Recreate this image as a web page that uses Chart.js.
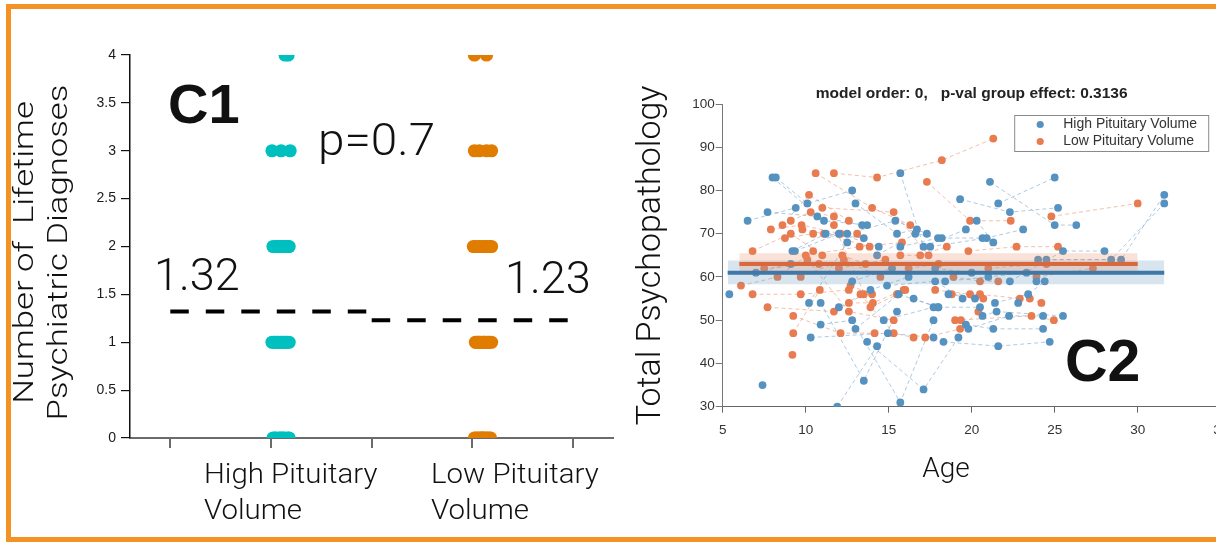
<!DOCTYPE html>
<html>
<head>
<meta charset="utf-8">
<script src="https://cdn.jsdelivr.net/npm/chart.js@4.4.1/dist/chart.umd.min.js"></script>
<style>
  html, body { margin: 0; padding: 0; background: #fff; overflow: hidden; }
  body { width: 1216px; height: 542px; position: relative; }
  #c1 { position: absolute; left: 0; top: 0; }
  #c2 { position: absolute; left: 630px; top: 0; }
  #frame {
    position: absolute; left: 6px; top: 4px; width: 1300px; height: 528px;
    border: 5px solid #f39325; border-right: none; pointer-events: none;
  }
</style>
</head>
<body>
<canvas id="c1" width="620" height="542"></canvas>
<canvas id="c2" width="612" height="542"></canvas>
<div id="frame"></div>
<script>
// ---------- panel C1: lifetime diagnoses by group ----------
const groupLabels = [["High Pituitary", "Volume"], ["Low Pituitary", "Volume"]];
const groupPos = [1, 3];
const groupMeans = [1.32, 1.23];
const pValue = 0.7;
const c1Title = ["Number of  Lifetime", "Psychiatric Diagnoses"];

// one entry per subject: number of diagnoses and its horizontal jitter in the strip
const highDiag = [0,0,0,0,0,0,0,0,0,0, 1,1,1,1,1,1,1,1,1,1,1,1, 2,2,2,2,2,2,2,2,2,2, 3,3,3, 4,4];
const highJitter = [0.02,0.04,0.05,0.08,0.11,0.12,0.14,0.17,0.18,0.09,
                    0.01,0.03,0.04,0.06,0.07,0.09,0.10,0.12,0.13,0.15,0.16,0.18,
                    0.02,0.05,0.06,0.08,0.10,0.11,0.14,0.16,0.17,0.18,
                    0.01,0.10,0.19,
                    0.14,0.17];
const lowDiag = [0,0,0,0,0,0,0,0,0,0,0,0,0, 1,1,1,1,1,1,1,1,1,1,1,1,1,1, 2,2,2,2,2,2,2,2,2, 3,3,3,3, 4,4];
const lowJitter = [0.02,0.03,0.05,0.06,0.08,0.09,0.11,0.12,0.14,0.15,0.17,0.18,0.10,
                   0.03,0.04,0.05,0.07,0.08,0.10,0.11,0.12,0.13,0.15,0.16,0.17,0.19,0.06,
                   0.01,0.03,0.06,0.08,0.11,0.13,0.15,0.17,0.19,
                   0.02,0.07,0.14,0.19,
                   0.02,0.14];
const stripColors = ["#00bfbf", "#e07c00"];

// ---------- panel C2: total psychopathology by age ----------
const modelOrder = 0;
const groupPval = 0.3136;
const seriesNames = ["High Pituitary Volume", "Low Pituitary Volume"];
const dotColors = ["#5592c0", "#e87b50"];
const trackColors = ["rgba(95,150,195,0.5)", "rgba(232,128,90,0.5)"];

// [subject, age, score]
const highVisits = [
  [1, 6.5, 73], [1, 9.4, 76],
  [2, 7.4, 35],
  [3, 7.7, 75], [3, 10.7, 74], [3, 13.4, 72],
  [4, 8.0, 83], [4, 11.1, 73], [4, 13.7, 72],
  [5, 8.2, 83], [5, 10.1, 77], [5, 12.8, 80],
  [6, 9.2, 66], [6, 11.2, 70], [6, 13.5, 69],
  [7, 9.35, 66], [7, 12.0, 70], [7, 14.4, 67],
  [8, 10.2, 54], [8, 12.5, 68],
  [9, 10.3, 46], [9, 14.95, 47], [9, 17.7, 46],
  [10, 10.9, 54], [10, 13.5, 36], [10, 15.5, 52],
  [11, 10.9, 49], [11, 12.8, 50], [11, 15.7, 31], [11, 17.7, 50],
  [12, 11.9, 30], [12, 14.3, 44],
  [13, 12.0, 53], [13, 13.9, 57], [13, 16.2, 60],
  [14, 12.5, 70], [14, 15.4, 73], [14, 17.3, 70],
  [15, 13.0, 77], [15, 15.5, 70], [15, 16.7, 71],
  [16, 13.0, 48], [16, 15.6, 56], [16, 17.95, 53],
  [17, 13.7, 45], [17, 17.1, 34], [17, 19.2, 46],
  [18, 14.3, 65], [18, 16.6, 70], [18, 18.2, 69],
  [19, 14.7, 50], [19, 17.7, 53], [19, 20.5, 53],
  [20, 14.9, 58], [20, 17.8, 59], [20, 19.45, 55],
  [21, 15.7, 84], [21, 17.1, 67], [21, 19.65, 71],
  [22, 15.7, 67], [22, 17.97, 69], [22, 20.65, 69],
  [23, 17.5, 67], [23, 20.9, 69], [23, 23.1, 71],
  [24, 18.3, 45], [24, 21.6, 44], [24, 24.7, 45],
  [25, 18.4, 59], [25, 21.0, 60], [25, 23.3, 61],
  [26, 19.3, 78], [26, 22.3, 75], [26, 25.2, 76],
  [27, 19.65, 49], [27, 21.3, 48], [27, 24.3, 48],
  [28, 19.8, 48], [28, 22.25, 51], [28, 24.3, 51],
  [29, 20.3, 73], [29, 21.3, 68],
  [30, 20.65, 51], [30, 21.5, 52], [30, 25.5, 51],
  [31, 21.1, 82], [31, 25.0, 72], [31, 26.3, 72],
  [32, 21.4, 54], [32, 23.4, 56], [32, 24.4, 59],
  [33, 21.6, 77], [33, 25.0, 83],
  [34, 22.3, 59], [34, 25.5, 66], [34, 28.0, 66],
  [36, 24.0, 64], [36, 28.4, 64], [36, 31.6, 77],
  [37, 24.5, 64], [37, 29.0, 64], [37, 31.6, 79],
  [38, 5.4, 56],
  [39, 22.8, 54],
  [40, 7.0, 61], [40, 9.1, 63],
  [41, 12.8, 59], [41, 15.2, 62],
  [42, 17.8, 62], [42, 20.0, 61],
  [43, 23.9, 59],
  [44, 18.6, 56], [44, 20.2, 55],
  [45, 16.5, 55], [45, 18.0, 53]
];
const lowVisits = [
  [1, 6.1, 58], [1, 8.3, 60], [1, 10.45, 66],
  [2, 6.8, 66], [2, 9.1, 70], [2, 11.0, 65],
  [3, 6.8, 56], [3, 9.7, 56], [3, 12.6, 57],
  [4, 7.7, 53], [4, 11.7, 52], [4, 13.5, 56],
  [5, 7.9, 71], [5, 9.75, 72], [5, 12.1, 70],
  [6, 8.6, 72], [6, 10.2, 79], [6, 12.6, 73],
  [7, 8.75, 69], [7, 10.45, 70], [7, 13.1, 70],
  [8, 9.1, 73], [8, 10.3, 75], [8, 11.7, 74],
  [9, 9.25, 51], [9, 12.1, 47], [9, 14.15, 47],
  [10, 9.25, 47], [10, 10.85, 57],
  [11, 9.2, 42],
  [12, 9.8, 71], [12, 11.1, 70], [12, 13.85, 67],
  [13, 9.7, 60], [13, 12.3, 64], [13, 14.5, 60],
  [14, 10.0, 65], [14, 13.25, 67], [14, 15.8, 68],
  [15, 10.1, 64], [15, 12.6, 52], [15, 15.3, 50],
  [16, 10.6, 84], [16, 14.0, 76], [16, 16.3, 72],
  [17, 11.0, 76], [17, 15.3, 75], [17, 17.4, 65],
  [18, 11.7, 84], [18, 14.3, 83], [18, 18.2, 87], [18, 21.3, 92],
  [19, 11.7, 72], [19, 13.9, 53], [19, 15.55, 56],
  [20, 12.6, 54], [20, 14.05, 54], [20, 15.9, 57],
  [21, 13.3, 56], [21, 15.3, 47], [21, 16.5, 46],
  [22, 15.7, 65], [22, 16.9, 65], [22, 18.5, 67],
  [23, 17.2, 46], [23, 19.3, 48], [23, 20.4, 52],
  [24, 17.3, 82], [24, 19.9, 73], [24, 22.35, 73],
  [25, 17.8, 57], [25, 19.9, 56], [25, 20.7, 55],
  [26, 18.8, 56], [26, 20.5, 56], [26, 22.9, 55],
  [27, 18.9, 60], [27, 20.5, 59], [27, 21.6, 59],
  [28, 19.0, 50], [28, 23.6, 51], [28, 24.95, 50],
  [29, 19.8, 66], [29, 22.7, 67], [29, 25.2, 67],
  [30, 23.5, 55], [30, 24.2, 54],
  [31, 23.9, 60], [31, 27.3, 62],
  [32, 24.8, 74], [32, 30.0, 77],
  [33, 19.35, 50],
  [34, 7.5, 62], [34, 10.8, 63],
  [35, 12.0, 62], [35, 14.8, 64],
  [36, 16.2, 62], [36, 18.0, 63],
  [37, 21.0, 62], [37, 24.5, 63],
  [38, 12.2, 65], [38, 13.6, 63],
  [39, 15.5, 56], [39, 16.0, 57],
  [40, 12.7, 58], [40, 14.0, 56]
];

// group-effect model: flat fit with confidence band
const fitAgeFrom = [5.3, 6.0];
const fitAgeTo = [31.6, 30.0];
const fitMean = [61, 63];
const fitLow = [58.3, 60.6];
const fitHigh = [63.8, 65.5];
const fitLineColors = ["#3d78a6", "#d8693c"];
const fitBandColors = ["rgba(100,150,190,0.25)", "rgba(235,140,100,0.25)"];

const lightFont = "Roboto, 'Liberation Sans', sans-serif";
const plainFont = "'Liberation Sans', Arial, sans-serif";

// text drawn wider than the font's natural width
function wideText(ctx, text, x, y, sx, angle) {
  ctx.save();
  ctx.translate(x, y);
  if (angle) ctx.rotate(angle);
  ctx.scale(sx, 1);
  ctx.fillText(text, 0, 0);
  ctx.restore();
}

// ---------- C1 chart ----------
function stripPoints(diag, jitter, pos) {
  return diag.map((d, i) => ({ x: pos + jitter[i], y: d }));
}

const c1Notes = {
  id: "c1Notes",
  afterDraw(chart) {
    const ctx = chart.ctx;
    const a = chart.chartArea;
    ctx.save();
    ctx.fillStyle = "#111";
    ctx.textAlign = "left";
    ctx.textBaseline = "alphabetic";
    ctx.font = "bold 56px " + plainFont;
    ctx.fillText("C1", 168, 123);
    ctx.font = "300 45px " + lightFont;
    wideText(ctx, "p=" + pValue, 318, 155, 1.06);
    ctx.fillText(groupMeans[0].toFixed(2), 154, 290);
    ctx.fillText(groupMeans[1].toFixed(2), 505, 293);
    // category names under the axis
    const labelLeft = [204, 431];
    ctx.font = "300 27px " + lightFont;
    groupLabels.forEach((lines, i) => {
      lines.forEach((t, j) => wideText(ctx, t, labelLeft[i], 483 + j * 35.6, 1.09));
    });
    // two-line axis title, read bottom to top
    ctx.font = "300 28px " + lightFont;
    ctx.textAlign = "center";
    const mid = (a.top + a.bottom) / 2 + 6;
    c1Title.forEach((t, j) => wideText(ctx, t, 32.7 + j * 34, mid, 1.24, -Math.PI / 2));
    ctx.restore();
  }
};

const c1Sets = [];
groupMeans.forEach((m, i) => {
  c1Sets.push({
    data: [{ x: groupPos[i] - 1, y: m }, { x: groupPos[i] + 1, y: m }],
    borderColor: "#000",
    borderWidth: 4,
    borderDash: [18.5, 17],
    borderCapStyle: "butt",
    pointRadius: 0,
    fill: false
  });
});
c1Sets.push({
  data: stripPoints(highDiag, highJitter, groupPos[0]),
  showLine: false,
  pointRadius: 6.6,
  pointBorderWidth: 0,
  pointBackgroundColor: stripColors[0]
});
c1Sets.push({
  data: stripPoints(lowDiag, lowJitter, groupPos[1]),
  showLine: false,
  pointRadius: 6.6,
  pointBorderWidth: 0,
  pointBackgroundColor: stripColors[1]
});

new Chart(document.getElementById("c1"), {
  type: "line",
  data: { datasets: c1Sets },
  plugins: [c1Notes],
  options: {
    responsive: false,
    animation: false,
    events: [],
    layout: { padding: { top: 55, right: 5, left: 0, bottom: 0 } },
    plugins: { legend: { display: false }, tooltip: { enabled: false } },
    scales: {
      x: {
        type: "linear",
        min: -0.4,
        max: 4.4,
        afterBuildTicks: s => { s.ticks = [0, 1, 2, 3, 4].map(v => ({ value: v })); },
        afterFit: s => { s.height = 104; },
        ticks: { display: false },
        grid: { drawOnChartArea: false, tickLength: 10, color: "#6b6b6b", lineWidth: 2 },
        border: { color: "#6b6b6b", width: 2 }
      },
      y: {
        min: 0,
        max: 4,
        afterFit: s => { s.width = 130; },
        ticks: {
          stepSize: 0.5, padding: 5, color: "#1a1a1a",
          font: { family: plainFont, size: 14 },
          callback: v => String(v)
        },
        grid: { drawOnChartArea: false, tickLength: 9, color: "#111", lineWidth: 1.2 },
        border: { color: "#111", width: 1.5 }
      }
    }
  }
});

// ---------- C2 chart ----------
const c2Notes = {
  id: "c2Notes",
  afterDraw(chart) {
    const ctx = chart.ctx;
    const a = chart.chartArea;
    ctx.save();
    ctx.fillStyle = "#222";
    ctx.textAlign = "center";
    ctx.textBaseline = "middle";
    ctx.font = "bold 15.5px " + plainFont;
    ctx.fillText("model order: " + modelOrder + ",   p-val group effect: " + groupPval, (a.left + a.right) / 2, 93.5);

    // legend box inside the plot
    const lx = a.right - 206.5, ly = 115, lw = 194, lh = 36;
    ctx.fillStyle = "#fff";
    ctx.fillRect(lx, ly, lw, lh);
    ctx.strokeStyle = "#8a8a8a";
    ctx.lineWidth = 1;
    ctx.strokeRect(lx + 0.5, ly + 0.5, lw, lh);
    ctx.font = "14px " + plainFont;
    ctx.textAlign = "left";
    seriesNames.forEach((name, i) => {
      const ry = ly + 9.5 + i * 17;
      ctx.fillStyle = dotColors[i];
      ctx.beginPath();
      ctx.arc(lx + 26, ry, 3.6, 0, Math.PI * 2);
      ctx.fill();
      ctx.fillStyle = "#333";
      ctx.fillText(name, lx + 49, ry);
    });

    ctx.fillStyle = "#111";
    ctx.textBaseline = "alphabetic";
    ctx.textAlign = "center";
    ctx.font = "300 28px " + lightFont;
    ctx.fillText("Age", 316, 477);
    ctx.textAlign = "left";
    ctx.font = "bold 59px " + plainFont;
    ctx.fillText("C2", 435, 380.5);
    ctx.restore();
  }
};

function tracks(visits, color) {
  const bySubject = {};
  visits.forEach(([id, age, score]) => {
    (bySubject[id] = bySubject[id] || []).push({ x: age, y: score });
  });
  return Object.values(bySubject).filter(p => p.length > 1).map(p => ({
    data: p.sort((u, v) => u.x - v.x),
    borderColor: color,
    borderWidth: 1,
    borderDash: [4, 3],
    pointRadius: 0,
    fill: false
  }));
}

const c2Sets = [];
// fitted lines on top, then bands, then dots, then subject tracks underneath
[0, 1].forEach(i => {
  c2Sets.push({
    data: [{ x: fitAgeFrom[i], y: fitMean[i] }, { x: fitAgeTo[i], y: fitMean[i] }],
    borderColor: fitLineColors[i],
    borderWidth: 4,
    pointRadius: 0,
    fill: false
  });
});
[1, 0].forEach(i => {
  c2Sets.push({
    data: [{ x: fitAgeFrom[i], y: fitHigh[i] }, { x: fitAgeTo[i], y: fitHigh[i] }],
    borderWidth: 0,
    pointRadius: 0,
    backgroundColor: fitBandColors[i],
    fill: "+1"
  });
  c2Sets.push({
    data: [{ x: fitAgeFrom[i], y: fitLow[i] }, { x: fitAgeTo[i], y: fitLow[i] }],
    borderWidth: 0,
    pointRadius: 0,
    fill: false
  });
});
[highVisits, lowVisits].forEach((visits, i) => {
  c2Sets.push({
    label: seriesNames[i],
    data: visits.map(v => ({ x: v[1], y: v[2] })),
    showLine: false,
    pointRadius: 3.9,
    pointBorderWidth: 0,
    pointBackgroundColor: dotColors[i]
  });
});
c2Sets.push(...tracks(highVisits, trackColors[0]));
c2Sets.push(...tracks(lowVisits, trackColors[1]));

new Chart(document.getElementById("c2"), {
  type: "line",
  data: { datasets: c2Sets },
  plugins: [c2Notes],
  options: {
    responsive: false,
    animation: false,
    events: [],
    layout: { padding: { top: 104, right: 21.3, left: 0, bottom: 0 } },
    plugins: { legend: { display: false }, tooltip: { enabled: false } },
    scales: {
      x: {
        type: "linear",
        min: 5,
        max: 35,
        afterFit: s => { s.height = 135.3; },
        ticks: { stepSize: 5, padding: 9, color: "#333", font: { family: plainFont, size: 13.5 } },
        grid: { drawOnChartArea: false, tickLength: 6, color: "#666" },
        border: { color: "#666", width: 1 }
      },
      y: {
        min: 30,
        max: 100,
        afterFit: s => { s.width = 92.7; },
        ticks: { stepSize: 10, padding: 1, color: "#333", font: { family: plainFont, size: 13.5 } },
        grid: { drawOnChartArea: false, tickLength: 7, color: "#777" },
        border: { color: "#777", width: 1 },
        title: {
          display: true,
          text: "Total Psychopathology",
          color: "#111",
          padding: { top: 1, bottom: 0 },
          font: { family: lightFont, size: 34, weight: "300", lineHeight: 1.2 }
        }
      }
    }
  }
});
</script>
</body>
</html>
